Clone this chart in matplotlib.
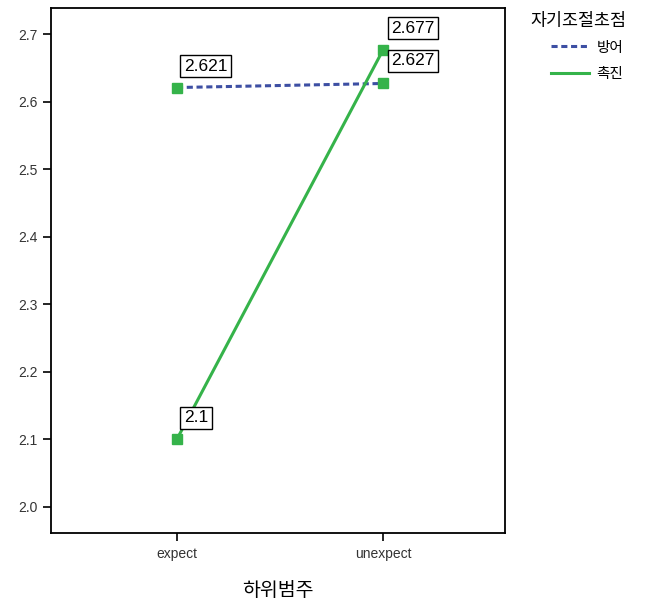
import matplotlib.pyplot as plt

plt.rcParams['font.family'] = ['Noto Sans CJK KR', 'DejaVu Sans']

categories = ["expect", "unexpect"]
series_names = ["방어", "촉진"]
defense = [2.621, 2.627]
promotion = [2.1, 2.677]
defense_labels = ["2.621", "2.627"]
promotion_labels = ["2.1", "2.677"]
yticks = [2.0, 2.1, 2.2, 2.3, 2.4, 2.5, 2.6, 2.7]

BLUE = "#3d4fa3"
GREEN = "#35b34a"
NUM_FONT = "Liberation Sans"

fig = plt.figure(figsize=(6.48, 6.07), dpi=100)
ax = fig.add_axes([0.079, 0.122, 0.700, 0.865])

x = list(range(len(categories)))
ax.plot(x, defense, color=BLUE, linestyle=(0, (2, 1.2)), linewidth=2.2,
        marker="s", markersize=7, markerfacecolor=GREEN, markeredgecolor=GREEN,
        label=series_names[0])
ax.plot(x, promotion, color=GREEN, linestyle="-", linewidth=2.2,
        marker="s", markersize=7, markerfacecolor=GREEN, markeredgecolor=GREEN,
        label=series_names[1])

box = dict(boxstyle="square,pad=0.2", facecolor="white", edgecolor="black", linewidth=1)
offsets = {("d", 0): (5, 10), ("d", 1): (6, 11), ("p", 0): (5, 10), ("p", 1): (6, 10)}
for xi, v, t in zip(x, defense, defense_labels):
    ax.annotate(t, (xi, v), xytext=offsets[("d", xi)], textcoords="offset points",
                fontsize=12.5, bbox=box, ha="left", va="bottom", family=NUM_FONT)
for xi, v, t in zip(x, promotion, promotion_labels):
    ax.annotate(t, (xi, v), xytext=offsets[("p", xi)], textcoords="offset points",
                fontsize=12.5, bbox=box, ha="left", va="bottom", family=NUM_FONT)

ax.set_xlim(-0.61, 1.59)
ax.set_ylim(1.961, 2.739)
ax.set_xticks(x)
ax.set_xticklabels(categories, fontsize=10, color="#333333", family=NUM_FONT)
ax.set_yticks(yticks)
ax.set_yticklabels([f"{v:.1f}" for v in yticks], fontsize=10, color="#333333",
                   family=NUM_FONT)
ax.tick_params(length=6, width=1.2, pad=4)
for s in ax.spines.values():
    s.set_linewidth(1.3)
ax.set_xlabel("하위범주", fontsize=14, labelpad=14)

fig.text(0.818, 0.965, "자기조절초점", fontsize=12.5, ha="left", va="center")
leg = fig.legend(loc="upper left", bbox_to_anchor=(0.835, 0.950), frameon=False,
                 fontsize=10.5, handlelength=2.6, handletextpad=0.5,
                 labelspacing=0.85, borderaxespad=0.3)
for h in leg.legend_handles:
    h.set_marker("")

fig.savefig("out.png", dpi=100)
